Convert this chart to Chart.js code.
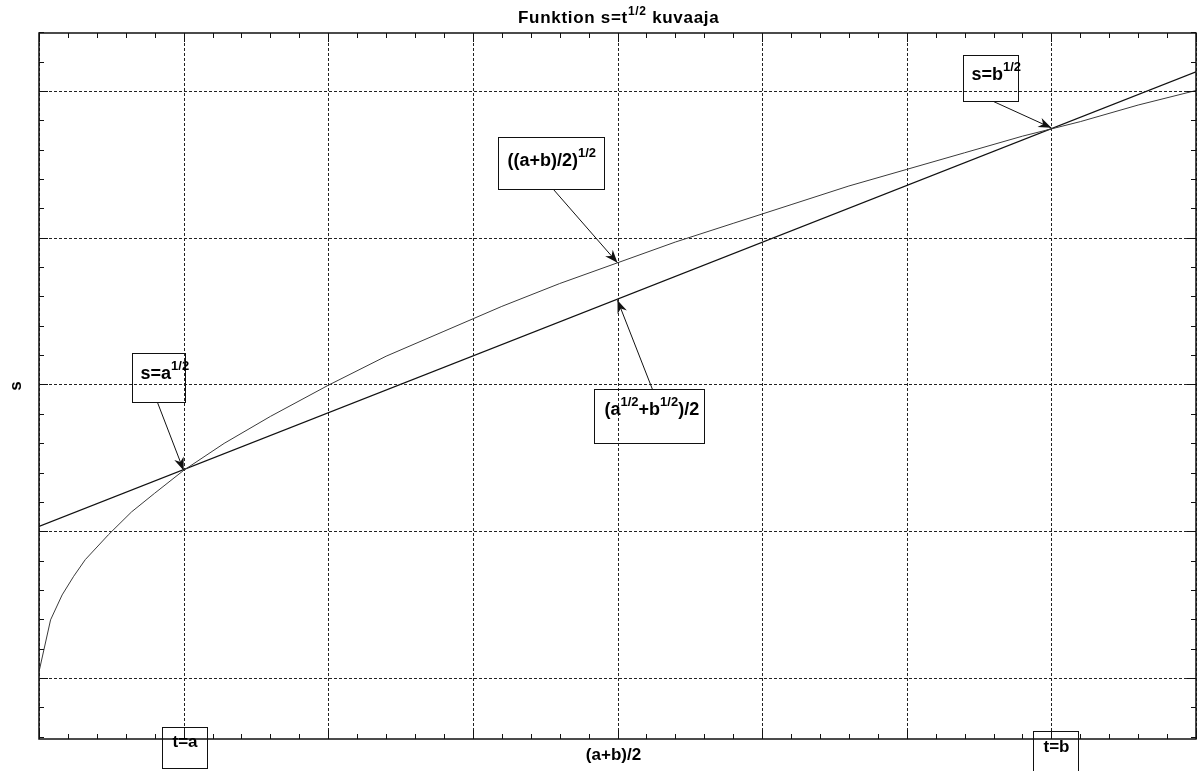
<!DOCTYPE html>
<html>
<head>
<meta charset="utf-8">
<script src="https://cdn.jsdelivr.net/npm/chart.js@4.4.0/dist/chart.umd.min.js"></script>
<style>
  html, body { margin: 0; padding: 0; background: #fff; }
  #wrap { width: 1200px; height: 771px; }
</style>
</head>
<body>
<div id="wrap"><canvas id="chart" width="1200" height="771"></canvas></div>
<script>
  // s = t^(1/2) (t in grid units, a = 1, b = 7)
  const curveT = [0, 0.08, 0.16, 0.24, 0.32, 0.48, 0.64, 0.8, 1, 1.28, 1.6, 2, 2.4, 2.8, 3.2, 3.6, 4, 4.4, 4.8, 5.2, 5.6, 6, 6.4, 6.8, 7.2, 7.6, 8]
  const curveS = [0.03, 0.28, 0.40, 0.49, 0.57, 0.69, 0.80, 0.89, 1.00, 1.13, 1.26, 1.41, 1.55, 1.67, 1.79, 1.90, 2.00, 2.10, 2.19, 2.28, 2.37, 2.45, 2.53, 2.61, 2.68, 2.76, 2.83]

  // chord through (a, a^1/2) and (b, b^1/2)
  const chordT = [0, 8]
  const chordS = [0.73, 2.92]

  // gridlines (no tick labels in the original)
  const xMajor = [0, 1, 2, 3, 4, 5, 6, 7, 8]
  const yMajor = [0, 0.707, 1.414, 2.121, 2.828]

  // annotated points
  const noteT = [1, 7, 4, 4]
  const noteS = [1.00, 2.65, 2.00, 1.82]
  const axisT = [1, 7]
  const axisText = ['t=a', 't=b']

  const FONT = '"Liberation Sans", Arial, Helvetica, sans-serif'

  function toXY(xs, ys){
    return xs.map((x, i) => ({x: x, y: ys[i]}))
  }

  function richText(ctx, parts, x, y, size, supSize, rise, spacing){
    let cx = x
    ctx.letterSpacing = (spacing || 0) + 'px'
    parts.forEach((p) => {
      ctx.font = `bold ${p.sup ? supSize : size}px ${FONT}`
      ctx.fillText(p.t, cx, p.sup ? y - rise : y)
      cx += ctx.measureText(p.t).width
    })
    ctx.letterSpacing = '0px'
  }

  function arrow(ctx, x0, y0, x1, y1){
    const ang = Math.atan2(y1 - y0, x1 - x0)
    ctx.beginPath(); ctx.moveTo(x0, y0); ctx.lineTo(x1, y1); ctx.stroke()
    ctx.save(); ctx.translate(x1, y1); ctx.rotate(ang)
    ctx.beginPath(); ctx.moveTo(0, 0); ctx.lineTo(-13, -5); ctx.lineTo(-9, 0); ctx.lineTo(-13, 5); ctx.closePath(); ctx.fill()
    ctx.restore()
  }

  // box layout around each arrow tip: [dx, dy, w, h] in px, tail x inside box, text offset
  const noteBoxes = [
    {box: [-52, -117, 53, 49], tail: 25, tailTop: false, tx: 8, ty: 25, text: [{t: 's=a'}, {t: '1/2', sup: true}]},
    {box: [-88, -73, 55, 46], tail: 30, tailTop: false, tx: 8, ty: 24, text: [{t: 's=b'}, {t: '1/2', sup: true}]},
    {box: [-120, -126, 106, 52], tail: 55, tailTop: false, tx: 9, ty: 28, text: [{t: '((a+b)/2)'}, {t: '1/2', sup: true}]},
    {box: [-24, 89, 110, 54], tail: 58, tailTop: true, tx: 10, ty: 25, text: [{t: '(a'}, {t: '1/2', sup: true}, {t: '+b'}, {t: '1/2', sup: true}, {t: ')/2'}]}
  ]
  const axisBoxes = [
    {box: [-22, -12, 45, 41], tx: 10, ty: 19},
    {box: [-18, -8, 45, 45], tx: 10, ty: 20}
  ]

  const framePlugin = {
    id: 'frame',
    beforeDatasetsDraw(chart){
      const {ctx, chartArea: a, scales: {x, y}} = chart
      ctx.save()
      ctx.strokeStyle = '#222'
      ctx.lineWidth = 1
      ctx.setLineDash([3, 2])
      xMajor.forEach((v) => {
        const px = Math.round(x.getPixelForValue(v)) + 0.5
        ctx.beginPath(); ctx.moveTo(px, a.top); ctx.lineTo(px, a.bottom); ctx.stroke()
      })
      yMajor.forEach((v) => {
        const py = Math.round(y.getPixelForValue(v)) + 0.5
        ctx.beginPath(); ctx.moveTo(a.left, py); ctx.lineTo(a.right, py); ctx.stroke()
      })
      ctx.restore()
    },
    afterDatasetsDraw(chart){
      const {ctx, chartArea: a, scales: {x, y}} = chart
      ctx.save()
      ctx.strokeStyle = '#111'
      ctx.fillStyle = '#111'

      // inward ticks on all four sides
      ctx.lineWidth = 1
      for (let v = 0; v <= 8.001; v += 0.2) {
        const major = Math.abs(v - Math.round(v)) < 0.01
        const len = major ? 9 : 5
        const px = Math.round(x.getPixelForValue(v)) + 0.5
        ctx.beginPath()
        ctx.moveTo(px, a.bottom); ctx.lineTo(px, a.bottom - len)
        ctx.moveTo(px, a.top); ctx.lineTo(px, a.top + len)
        ctx.stroke()
      }
      const yStep = 0.1414
      for (let k = -2; k <= 22; k++) {
        const v = k * yStep
        if (v < y.min - 0.01 || v > y.max + 0.01) continue
        const len = k % 5 === 0 ? 9 : 5
        const py = Math.round(y.getPixelForValue(v)) + 0.5
        ctx.beginPath()
        ctx.moveTo(a.left, py); ctx.lineTo(a.left + len, py)
        ctx.moveTo(a.right, py); ctx.lineTo(a.right - len, py)
        ctx.stroke()
      }

      // axes box
      ctx.lineWidth = 1.5
      ctx.strokeRect(a.left, a.top, a.right - a.left, a.bottom - a.top)

      // annotations with arrows
      ctx.lineWidth = 1
      noteBoxes.forEach((n, i) => {
        const tipX = x.getPixelForValue(noteT[i])
        const tipY = y.getPixelForValue(noteS[i])
        const bx = Math.round(tipX + n.box[0]) + 0.5
        const by = Math.round(tipY + n.box[1]) + 0.5
        ctx.strokeRect(bx, by, n.box[2], n.box[3])
        ctx.fillStyle = '#000'
        richText(ctx, n.text, bx + n.tx, by + n.ty, 18, 13, 9, 0)
        ctx.fillStyle = '#111'
        const tailY = n.tailTop ? by : by + n.box[3]
        arrow(ctx, bx + n.tail, tailY, tipX, tipY)
      })

      // t=a, t=b boxes on the x axis
      axisBoxes.forEach((n, i) => {
        const px = x.getPixelForValue(axisT[i])
        const bx = Math.round(px + n.box[0]) + 0.5
        const by = Math.round(a.bottom + n.box[1]) + 0.5
        ctx.strokeRect(bx, by, n.box[2], n.box[3])
        ctx.fillStyle = '#000'
        richText(ctx, [{t: axisText[i]}], bx + n.tx, by + n.ty, 17, 12, 9, 0)
      })

      // title
      ctx.fillStyle = '#000'
      ctx.textBaseline = 'alphabetic'
      richText(ctx, [{t: 'Funktion s=t'}, {t: '1/2', sup: true}, {t: ' kuvaaja'}], 518, 23, 17, 12, 8, 0.7)

      // axis labels
      ctx.font = `bold 17px ${FONT}`
      ctx.textAlign = 'center'
      ctx.fillText('(a+b)/2', x.getPixelForValue(4) - 4, 760)
      ctx.save()
      ctx.translate(21, (a.top + a.bottom) / 2)
      ctx.rotate(-Math.PI / 2)
      ctx.fillText('s', 0, 0)
      ctx.restore()

      ctx.restore()
    }
  }

  const config = {
    type: 'line',
    data: {
      datasets: [
        {
          label: 's = t^(1/2)',
          data: toXY(curveT, curveS),
          borderColor: '#3a3a3a',
          borderWidth: 1,
          pointRadius: 0,
          tension: 0,
          fill: false
        },
        {
          label: 'chord',
          data: toXY(chordT, chordS),
          borderColor: '#111',
          borderWidth: 1.3,
          pointRadius: 0,
          tension: 0,
          fill: false
        }
      ]
    },
    options: {
      responsive: false,
      animation: false,
      devicePixelRatio: 1,
      layout: {padding: {left: 39, right: 4, top: 33, bottom: 32}},
      plugins: {legend: {display: false}, tooltip: {enabled: false}, title: {display: false}},
      scales: {
        x: {type: 'linear', min: 0, max: 8, display: false},
        y: {type: 'linear', min: -0.294, max: 3.107, display: false}
      }
    },
    plugins: [framePlugin]
  }

  const myChart = new Chart(document.getElementById('chart'), config)
</script>
</body>
</html>
